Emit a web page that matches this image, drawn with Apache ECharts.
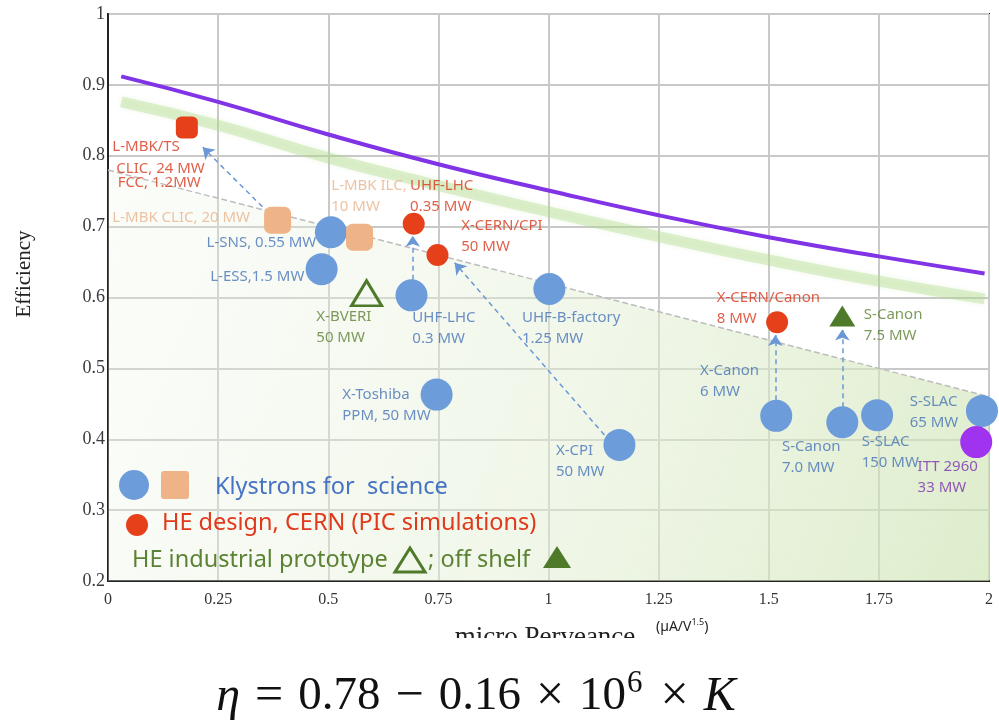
<!DOCTYPE html>
<html>
<head>
<meta charset="utf-8">
<script src="https://cdn.jsdelivr.net/npm/echarts@6/dist/echarts.min.js"></script>
<style>
html, body { margin: 0; padding: 0; background: #fff; }
#chart { width: 999px; height: 727px; }
</style>
</head>
<body>
<div id="chart"></div>
<script>
// x = micro perveance, y = efficiency
var scienceKlystrons = [[0.506, 0.692], [0.485, 0.640], [0.689, 0.603], [1.002, 0.612], [0.746, 0.463],
  [1.161, 0.392], [1.517, 0.433], [1.667, 0.424], [1.746, 0.434], [1.984, 0.440]];
var mbkScience = [[0.385, 0.709], [0.571, 0.685]];
var cernDesigns = [[0.694, 0.704], [0.748, 0.660], [1.519, 0.565]];
var cernMbk = [[0.179, 0.840]];
var industrialProto = [[0.587, 0.606]];
var offShelf = [[1.667, 0.574]];
var itt2960 = [[1.971, 0.396]];

var curveX = [0.03, 0.25, 0.5, 0.75, 1.0, 1.25, 1.5, 1.75, 1.99];
var purpleY = [0.912, 0.876, 0.830, 0.788, 0.751, 0.716, 0.685, 0.658, 0.634];
var greenY = [0.876, 0.843, 0.797, 0.758, 0.721, 0.686, 0.653, 0.623, 0.598];
var fitX = [0, 2];
var fitY = [0.78, 0.46];

var arrowFrom = [[0.365, 0.719], [0.692, 0.625], [1.127, 0.406], [1.515, 0.455], [1.667, 0.445]];
var arrowTo = [[0.215, 0.812], [0.692, 0.687], [0.787, 0.649], [1.515, 0.547], [1.667, 0.555]];

var noteTexts = ['L-MBK/TS', 'CLIC, 24 MW', 'FCC, 1.2MW', 'L-MBK CLIC, 20 MW', 'L-MBK ILC,\n10 MW',
  'UHF-LHC\n0.35 MW', 'X-CERN/CPI\n50 MW', 'L-SNS, 0.55 MW', 'L-ESS,1.5 MW', 'X-BVERI\n50 MW',
  'UHF-LHC\n0.3 MW', 'UHF-B-factory\n1.25 MW', 'X-Toshiba\nPPM, 50 MW', 'X-CPI\n50 MW',
  'X-CERN/Canon\n8 MW', 'S-Canon\n7.5 MW', 'X-Canon\n6 MW', 'S-Canon\n7.0 MW', 'S-SLAC\n150 MW',
  'S-SLAC\n65 MW', 'ITT 2960\n33 MW'];
var noteAnchors = [[0.011, 0.812], [0.020, 0.781], [0.023, 0.761], [0.011, 0.712], [0.508, 0.757],
  [0.687, 0.757], [0.803, 0.701], [0.474, 0.677], [0.447, 0.629], [0.474, 0.572],
  [0.692, 0.571], [0.941, 0.571], [0.533, 0.462], [1.018, 0.383],
  [1.383, 0.599], [1.717, 0.575], [1.345, 0.496], [1.531, 0.389], [1.712, 0.396],
  [1.821, 0.452], [1.839, 0.361]];
var noteKinds = ['red', 'red', 'red', 'orange', 'orange', 'red', 'red', 'blueR', 'blueR', 'green',
  'blue', 'blue', 'blue', 'blue', 'red', 'green', 'blue', 'blue', 'blue', 'blue', 'purple'];

var textColor = {
  red: '#d7381c', orange: '#e9b48c', blue: '#4673b8', blueR: '#4673b8',
  green: '#5c7f33', purple: '#7a2fb0'
};

var myChart = echarts.init(document.getElementById('chart'));

var noteData = noteTexts.map(function (t, i) {
  var kind = noteKinds[i];
  return {
    value: noteAnchors[i],
    label: {
      formatter: t,
      color: textColor[kind],
      align: kind === 'blueR' ? 'right' : 'left'
    }
  };
});

var arrowData = arrowFrom.map(function (p, i) {
  return { coords: [p, arrowTo[i]] };
});

function pairs(xs, ys) {
  return xs.map(function (x, i) { return [x, ys[i]]; });
}

var serif = 'Liberation Serif';
var sans = 'Noto Sans';
var legendFont = '23.5px "Noto Sans"';

var option = {
  animation: false,
  grid: {
    left: 108, right: 10, top: 14, bottom: 146,
    show: true, borderColor: '#222', borderWidth: 2
  },
  xAxis: {
    type: 'value', min: 0, max: 2, interval: 0.25,
    axisLine: { lineStyle: { color: '#222', width: 2 } },
    axisTick: { show: false },
    splitLine: { lineStyle: { color: '#c9c9c9', width: 2 } },
    axisLabel: { fontFamily: serif, fontSize: 16, color: '#333', margin: 11 }
  },
  yAxis: {
    type: 'value', min: 0.2, max: 1, interval: 0.1,
    axisLine: { show: true, lineStyle: { color: '#222', width: 2 } },
    axisTick: { show: false },
    splitLine: { lineStyle: { color: '#c9c9c9', width: 2 } },
    axisLabel: {
      fontFamily: serif, fontSize: 18, color: '#3a3a3a', margin: 3,
      formatter: function (v) { return String(+v.toFixed(2)); }
    }
  },
  series: [
    {
      name: 'fit',
      type: 'line',
      data: pairs(fitX, fitY),
      symbol: 'none',
      z: 1,
      lineStyle: { color: '#bdbdbd', width: 1.5, type: 'dashed' },
      areaStyle: {
        origin: 'start',
        color: new echarts.graphic.LinearGradient(0, 0.2, 1, 1, [
          { offset: 0, color: 'rgba(238,245,230,0.35)' },
          { offset: 0.55, color: 'rgba(226,238,210,0.75)' },
          { offset: 1, color: 'rgba(205,228,178,0.95)' }
        ])
      }
    },
    {
      name: 'green band',
      type: 'line',
      data: pairs(curveX, greenY),
      smooth: true,
      symbol: 'none',
      z: 2,
      lineStyle: {
        color: 'rgba(175,218,140,0.38)', width: 11,
        shadowBlur: 5, shadowColor: 'rgba(175,218,140,0.5)'
      }
    },
    {
      name: 'purple',
      type: 'line',
      data: pairs(curveX, purpleY),
      smooth: true,
      symbol: 'none',
      z: 3,
      lineStyle: { color: '#8133e6', width: 4 }
    },
    {
      name: 'arrows',
      type: 'lines',
      coordinateSystem: 'cartesian2d',
      z: 4,
      symbol: ['none', 'arrow'],
      symbolSize: 11,
      lineStyle: { color: '#6a98d6', width: 1.5, type: [5, 4], opacity: 1 },
      data: arrowData
    },
    {
      name: 'Klystrons for science',
      type: 'scatter', z: 5,
      symbolSize: 32,
      itemStyle: { color: '#6d9cdb', opacity: 1 },
      data: scienceKlystrons
    },
    {
      name: 'MBK science',
      type: 'scatter', z: 5,
      symbol: 'roundRect',
      symbolSize: 27,
      itemStyle: { color: '#eeb387', opacity: 1 },
      data: mbkScience
    },
    {
      name: 'HE design, CERN',
      type: 'scatter', z: 6,
      symbolSize: 22,
      itemStyle: { color: '#e6401b', opacity: 1 },
      data: cernDesigns
    },
    {
      name: 'HE design, CERN MBK',
      type: 'scatter', z: 6,
      symbol: 'roundRect',
      symbolSize: 22,
      itemStyle: { color: '#e6401b', opacity: 1 },
      data: cernMbk
    },
    {
      name: 'HE industrial prototype',
      type: 'scatter', z: 6,
      symbol: 'triangle',
      symbolSize: [30, 25],
      itemStyle: { color: 'transparent', borderColor: '#4f7a2a', borderWidth: 3, opacity: 1 },
      data: industrialProto
    },
    {
      name: 'off shelf',
      type: 'scatter', z: 6,
      symbol: 'triangle',
      symbolSize: [26, 21],
      itemStyle: { color: '#4f7a2a', opacity: 1 },
      data: offShelf
    },
    {
      name: 'ITT 2960',
      type: 'scatter', z: 6,
      symbolSize: 32,
      itemStyle: { color: '#a033f0', opacity: 1 },
      data: itt2960
    },
    {
      name: 'notes',
      type: 'scatter', z: 7,
      symbolSize: 1,
      itemStyle: { color: 'transparent' },
      label: {
        show: true,
        position: [0, 0],
        verticalAlign: 'top',
        offset: [0, -10.5],
        lineHeight: 21,
        fontFamily: sans,
        fontSize: 15
      },
      data: noteData
    }
  ],
  graphic: [
    // legend block
    { type: 'circle', shape: { cx: 134, cy: 485, r: 15 }, style: { fill: '#6d9cdb' }, z: 10 },
    { type: 'rect', shape: { x: 161, y: 471, width: 28, height: 28, r: 3 }, style: { fill: '#eeb387' }, z: 10 },
    { type: 'text', x: 215, y: 487, z: 10,
      style: { text: 'Klystrons for  science', fill: '#4673c4', font: legendFont, verticalAlign: 'middle' } },
    { type: 'circle', shape: { cx: 137, cy: 525, r: 11 }, style: { fill: '#e6401b' }, z: 10 },
    { type: 'text', x: 162, y: 523, z: 10,
      style: { text: 'HE design, CERN (PIC simulations)', fill: '#e0391c', font: legendFont, verticalAlign: 'middle' } },
    { type: 'text', x: 132, y: 560, z: 10,
      style: { text: 'HE industrial prototype', fill: '#5c8234', font: legendFont, verticalAlign: 'middle' } },
    { type: 'polygon', shape: { points: [[395, 572], [425, 572], [410, 548]] }, z: 10,
      style: { fill: 'none', stroke: '#4f7a2a', lineWidth: 3 } },
    { type: 'text', x: 428, y: 560, z: 10,
      style: { text: '; off shelf', fill: '#5c8234', font: legendFont, verticalAlign: 'middle' } },
    { type: 'polygon', shape: { points: [[543, 568], [571, 568], [557, 546]] }, z: 10,
      style: { fill: '#4f7a2a' } },
    // axis titles
    { type: 'text', x: 24, y: 274, rotation: Math.PI / 2, z: 10,
      style: { text: 'Efficiency', fill: '#222', font: '21px "Liberation Serif"', align: 'center', verticalAlign: 'middle' } },
    { type: 'text', x: 545, y: 638, z: 10,
      style: { text: 'micro Perveance', fill: '#222', font: '27px "Liberation Serif"', align: 'center', verticalAlign: 'middle' } },
    { type: 'rect', shape: { x: 430, y: 638, width: 230, height: 26 }, style: { fill: '#fff' }, z: 11 },
    { type: 'text', x: 656, y: 627, z: 10,
      style: {
        text: '(µA/V{s|1.5})', fill: '#222', font: '14px "Noto Sans"', verticalAlign: 'middle',
        rich: { s: { fontSize: 9, fontFamily: sans, fill: '#222', padding: [0, 0, 9, 0] } }
      } },
    // formula
    { type: 'text', x: 476, y: 697, z: 10,
      style: {
        text: '{i|η}{o|=}{n|0.78}{o|−}{n|0.16}{o|×}{n|10}{s|6}{o|×}{i|K}',
        align: 'center', verticalAlign: 'middle',
        rich: {
          i: { fontFamily: serif, fontStyle: 'italic', fontSize: 48, fill: '#111' },
          n: { fontFamily: serif, fontSize: 47, fill: '#111' },
          o: { fontFamily: serif, fontSize: 50, fill: '#111', padding: [0, 15] },
          s: { fontFamily: serif, fontSize: 31, fill: '#111', padding: [0, 3, 26, 1] }
        }
      } }
  ]
};

myChart.setOption(option);
</script>
</body>
</html>
